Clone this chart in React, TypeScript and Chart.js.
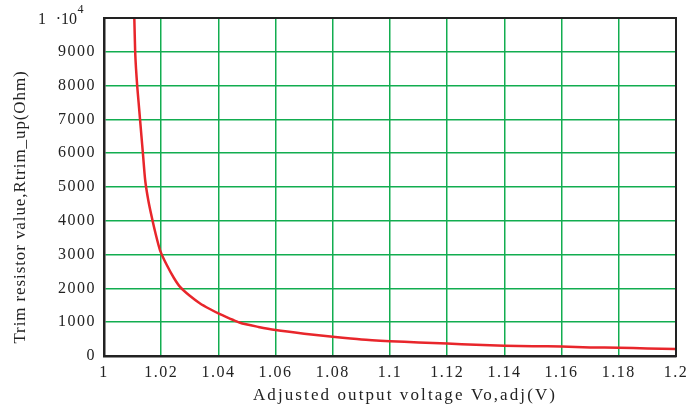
import React, { useEffect, useRef } from "react";
import { Chart, registerables } from "chart.js";

Chart.register(...registerables);

const voltage = [
  1.0106, 1.0109, 1.0112, 1.0116, 1.0121, 1.0126, 1.0131, 1.0136, 1.0144, 1.0155,
  1.0167, 1.0179, 1.0196, 1.022, 1.0245, 1.0266, 1.03, 1.0336, 1.037,
  1.04, 1.0476, 1.054, 1.06, 1.07, 1.08, 1.09, 1.1, 1.11, 1.12,
  1.13, 1.14, 1.15, 1.16, 1.17, 1.18, 1.19, 1.2,
];
const resistance = [
  10000, 9000, 8500, 8000, 7500, 7000, 6500, 6000, 5200, 4600,
  4110, 3667, 3127, 2684, 2300, 2045, 1780, 1554, 1390,
  1260, 983, 860, 767, 660, 570, 490, 440, 400, 370,
  330, 305, 290, 280, 255, 245, 225, 205,
];
const xTicks = [1, 1.02, 1.04, 1.06, 1.08, 1.1, 1.12, 1.14, 1.16, 1.18, 1.2];
const yTicks = [0, 1000, 2000, 3000, 4000, 5000, 6000, 7000, 8000, 9000, 10000];
const xTitle = "Adjusted output voltage Vo,adj(V)";
const yTitle = "Trim resistor value,Rtrim_up(Ohm)";

const FONT = "'Liberation Serif', 'Times New Roman', serif";

export default function App() {
  const ref = useRef<HTMLCanvasElement | null>(null);
  useEffect(() => {
    document.body.style.margin = "0";
    const canvas = ref.current;
    if (!canvas) return;
    const extras = {
      id: "extras",
      beforeDraw(chart: any) {
        (chart.ctx as any).letterSpacing = "1.5px";
      },
      afterDraw(chart: any) {
        const { ctx, chartArea } = chart;
        ctx.save();
        ctx.strokeStyle = "#222";
        ctx.lineWidth = 2;
        ctx.strokeRect(chartArea.left, chartArea.top, chartArea.right - chartArea.left, chartArea.bottom - chartArea.top);
        ctx.fillStyle = "#222";
        ctx.textBaseline = "middle";
        (ctx as any).letterSpacing = "0px";
        // top tick label 1 ·10^4
        const yTop = chart.scales.y.getPixelForValue(10000) + 2;
        ctx.font = `16px ${FONT}`;
        ctx.textAlign = "right";
        ctx.fillText("1", 46, yTop);
        ctx.fillText("\u00B710", 77, yTop);
        ctx.font = `12px ${FONT}`;
        ctx.textAlign = "left";
        ctx.fillText("4", 77.5, yTop - 10);
        // axis titles
        ctx.font = `17px ${FONT}`;
        (ctx as any).letterSpacing = "2.1px";
        ctx.textAlign = "center";
        ctx.fillText(xTitle, 405, 396);
        ctx.translate(21, 207);
        ctx.rotate(-Math.PI / 2);
        (ctx as any).letterSpacing = "0.9px";
        ctx.fillText(yTitle, 0, 0);
        ctx.restore();
      },
    };
    const chart = new Chart(canvas, {
      type: "line",
      data: {
        datasets: [
          {
            data: voltage.map((v, i) => ({ x: v, y: resistance[i] })),
            borderColor: "#e8262b",
            borderWidth: 2.5,
            pointRadius: 0,
            tension: 0.2,
            fill: false,
          },
        ],
      },
      options: {
        animation: false,
        responsive: false,
        maintainAspectRatio: false,
        layout: { padding: { top: 18, right: 24, left: 0, bottom: 0 } },
        plugins: { legend: { display: false }, tooltip: { enabled: false } },
        scales: {
          x: {
            type: "linear",
            min: 1,
            max: 1.2,
            afterBuildTicks: (s: any) => {
              s.ticks = xTicks.map((v) => ({ value: v }));
            },
            afterFit: (s: any) => {
              s.height = 53;
            },
            grid: { color: "#12ad50", lineWidth: 1.5, drawTicks: false },
            border: { color: "#222", width: 2.5 },
            ticks: {
              color: "#222",
              padding: 7,
              maxRotation: 0,
              font: { family: FONT, size: 16 },
              callback: (v: any) => String(Number(v)),
            },
          },
          y: {
            type: "linear",
            min: 0,
            max: 10000,
            afterBuildTicks: (s: any) => {
              s.ticks = yTicks.map((v) => ({ value: v }));
            },
            afterFit: (s: any) => {
              s.width = 104;
            },
            grid: { color: "#12ad50", lineWidth: 1.5, drawTicks: false },
            border: { color: "#222", width: 2.5 },
            ticks: {
              color: "#222",
              padding: 8,
              font: { family: FONT, size: 16 },
              callback: (v: any) => (Number(v) === 10000 ? "" : String(v)),
            },
          },
        },
      },
      plugins: [extras],
    });
    return () => chart.destroy();
  }, []);
  return <canvas ref={ref} width={700} height={409} style={{ display: "block" }} />;
}
